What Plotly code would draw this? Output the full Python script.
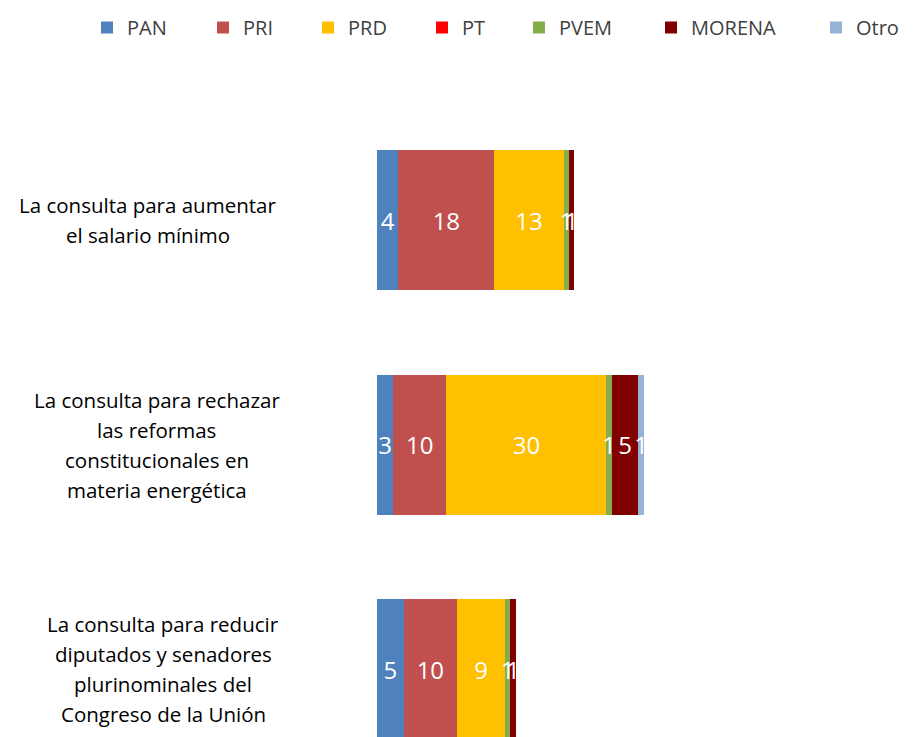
import plotly.graph_objects as go

categories = [
    "La consulta para aumentar<br>el salario mínimo",
    "La consulta para rechazar<br>las reformas<br>constitucionales en<br>materia energética",
    "La consulta para reducir<br>diputados y senadores<br>plurinominales del<br>Congreso de la Unión",
]
parties = ["PAN", "PRI", "PRD", "PT", "PVEM", "MORENA", "Otro"]
values = {
    "PAN":    [4, 3, 5],
    "PRI":    [18, 10, 10],
    "PRD":    [13, 30, 9],
    "PT":     [None, None, None],
    "PVEM":   [1, 1, 1],
    "MORENA": [1, 5, 1],
    "Otro":   [None, 1, None],
}
colors = {
    "PAN": "#4F81BD", "PRI": "#C0504D", "PRD": "#FFC000", "PT": "#FF0000",
    "PVEM": "#84AE4C", "MORENA": "#800000", "Otro": "#95B3D7",
}

# the page body has an 8px margin; work in figure coordinates
OFF = 8
W, H = 913 - OFF, 737 - OFF
L, R, T, B = 377 - OFF, 20, 100 - OFF, 0
px_per_unit = 5.335
plot_w = W - L - R
xmax = plot_w / px_per_unit
band = 224.5

FONT = "Open Sans"

fig = go.Figure()
legend_sq_x = [102, 218, 323, 437, 534, 666, 831]
layout_legends = {}
for i, p in enumerate(parties):
    lname = "legend" if i == 0 else f"legend{i+1}"
    fig.add_trace(go.Bar(
        y=categories, x=values[p], orientation="h", name=p,
        marker=dict(color=colors[p], line=dict(width=0)),
        width=140 / band,
        texttemplate="%{x}", textposition="inside", insidetextanchor="middle",
        textangle=0, constraintext="none",
        textfont=dict(color="white", size=24, family=FONT),
        hoverinfo="skip", legend=lname, showlegend=True,
    ))
    layout_legends[lname] = dict(
        x=(legend_sq_x[i] - 23) / W, xref="container", xanchor="left",
        y=1, yref="container", yanchor="top",
        orientation="h", bgcolor="rgba(0,0,0,0)", borderwidth=0,
        font=dict(family=FONT, size=20, color="#404040"),
        itemclick=False, itemdoubleclick=False,
    )

# category labels (right-aligned block, centered lines)
block_centers = [147.5, 156.5, 163]
line_h = 30
for ci, cat in enumerate(categories):
    lines = cat.split("<br>")
    n = len(lines)
    cx = (block_centers[ci] - OFF - L) / plot_w
    for li, line in enumerate(lines):
        fig.add_annotation(
            x=cx, xref="paper", xanchor="center",
            y=cat, yref="y", yanchor="middle",
            yshift=((n - 1) / 2 - li) * line_h,
            text=line, showarrow=False,
            font=dict(family=FONT, size=20.5, color="#000000"),
        )

fig.update_layout(
    barmode="stack",
    width=W, height=H,
    showlegend=True,
    margin=dict(l=L, r=R, t=T, b=B, pad=0, autoexpand=False),
    paper_bgcolor="white", plot_bgcolor="white",
    uniformtext=dict(minsize=24, mode="show"),
    xaxis=dict(range=[0, xmax], visible=False, fixedrange=True),
    yaxis=dict(
        categoryorder="array", categoryarray=categories,
        range=[2 + (737 - 669) / band, -(220 - 100) / band],
        showticklabels=False, showgrid=False, zeroline=False, showline=False,
        fixedrange=True,
    ),
    font=dict(family=FONT),
    **layout_legends,
)

fig.write_html("out.html")
